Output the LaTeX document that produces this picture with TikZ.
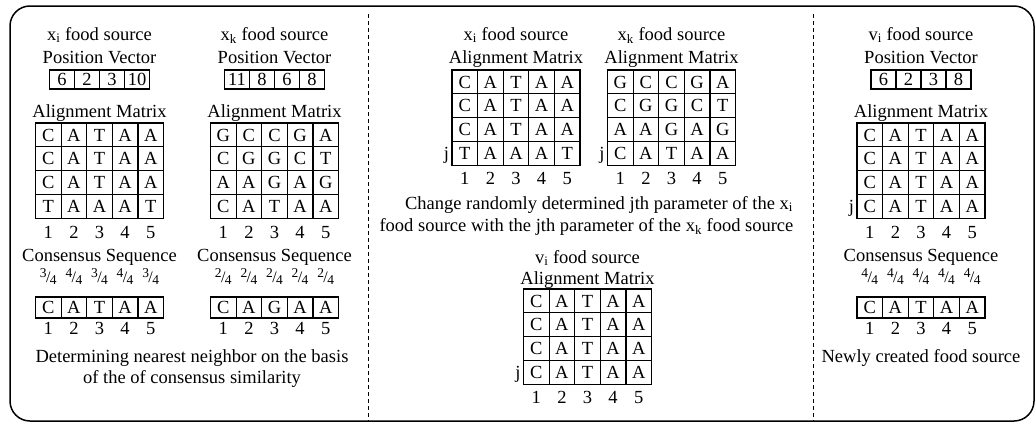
\documentclass[tikz,border=0pt]{standalone}
\usepackage{fontspec}
\setmainfont{Liberation Serif}
\newcommand{\fs}{\fontsize{18.5}{22}\selectfont}
\newcommand{\myfrac}[2]{\raisebox{4.5pt}{\fontsize{13.5}{13.5}\selectfont #1}\kern-0.6pt{\fontsize{16}{16}\selectfont /}\kern-0.6pt\raisebox{-2pt}{\fontsize{13.5}{13.5}\selectfont #2}}
% name, x-left, y-top, cell width, cell height, rows
\newcommand{\mygrid}[6]{%
  \foreach \row [count=\r] in {#6} {
    \foreach \ch [count=\c] in \row {
      \node[cellst, minimum width=#4pt, minimum height=#5pt] (#1-\r-\c)
        at ({#2+(\c-0.5)*#4}, {#3+(\r-0.5)*#5}) {\ch};
    }
  }%
}
% name, x-left, baseline y, cell width
\newcommand{\mynums}[4]{%
  \foreach \c in {1,...,5} {
    \node[lbl] (#1-n\c) at ({#2+(\c-0.5)*#4}, #3) {\c};
  }%
}
\begin{document}
\begin{tikzpicture}[x=1pt,y=-1pt,
  every node/.style={inner sep=0pt, outer sep=0pt, font=\fs},
  lbl/.style={anchor=base},
  cellst/.style={draw, line width=1.2pt, text height=12.2pt, text depth=0pt, anchor=center},
  jlbl/.style={anchor=base east},
  sep/.style={line width=1pt, dash pattern=on 4pt off 3pt},
  frame/.style={line width=1.5pt, rounded corners=20pt}
]
\useasboundingbox (0,0) rectangle (1036,423);
\draw[frame] (10,6) rectangle (1034,421);
\draw[sep] (368,14) -- (368,421);
\draw[sep] (813,14) -- (813,421);

% ---------------- Panel 1 ----------------
% left column (x_i), center 99.5
\node[lbl] (p1a-title) at (99.5,40) {x\textsubscript{i} food source};
\node[lbl] (p1a-pvt) at (99.5,63) {Position Vector};
\mygrid{p1a-pv}{49.5}{70}{25}{19}{{6,2,3,10}}
\node[lbl] (p1a-amt) at (99.5,117) {Alignment Matrix};
\mygrid{p1a-m}{35.5}{123}{25.6}{23.8}{{C,A,T,A,A},{C,A,T,A,A},{C,A,T,A,A},{T,A,A,A,T}}
\mynums{p1a-m}{35.5}{238}{25.6}
\node[lbl] (p1a-cst) at (99.5,261) {Consensus Sequence};
\foreach \a/\c in {3/1,4/2,3/3,4/4,3/5} {
  \node[lbl] (p1a-f\c) at ({35.5+(\c-0.5)*25.6},282) {\myfrac{\a}{4}};
}
\mygrid{p1a-cs}{35.5}{297}{25.6}{21}{{C,A,T,A,A}}
\mynums{p1a-cs}{35.5}{334}{25.6}

% right column (x_k), center 274.5
\node[lbl] (p1b-title) at (274.5,40) {x\textsubscript{k} food source};
\node[lbl] (p1b-pvt) at (274.5,63) {Position Vector};
\mygrid{p1b-pv}{224.5}{70}{25}{19}{{11,8,6,8}}
\node[lbl] (p1b-amt) at (274.5,117) {Alignment Matrix};
\mygrid{p1b-m}{210.5}{123}{25.6}{23.8}{{G,C,C,G,A},{C,G,G,C,T},{A,A,G,A,G},{C,A,T,A,A}}
\mynums{p1b-m}{210.5}{238}{25.6}
\node[lbl] (p1b-cst) at (274.5,261) {Consensus Sequence};
\foreach \c in {1,...,5} {
  \node[lbl] (p1b-f\c) at ({210.5+(\c-0.5)*25.6},282) {\myfrac{2}{4}};
}
\mygrid{p1b-cs}{210.5}{297}{25.6}{21}{{C,A,G,A,A}}
\mynums{p1b-cs}{210.5}{334}{25.6}

\node[lbl] (p1-txt1) at (192,362) {Determining nearest neighbor on the basis};
\node[lbl] (p1-txt2) at (192,383) {of the of consensus similarity};

% ---------------- Panel 2 ----------------
\node[lbl] (p2a-title) at (516,40) {x\textsubscript{i} food source};
\node[lbl] (p2a-amt) at (516,63) {Alignment Matrix};
\mygrid{p2a-m}{452}{70}{25.6}{23.8}{{C,A,T,A,A},{C,A,T,A,A},{C,A,T,A,A},{T,A,A,A,T}}
\node[jlbl] (p2a-j) at (449,{70+3.5*23.8+6.1}) {j};
\mynums{p2a-m}{452}{184}{25.6}

\node[lbl] (p2b-title) at (671.5,40) {x\textsubscript{k} food source};
\node[lbl] (p2b-amt) at (671.5,63) {Alignment Matrix};
\mygrid{p2b-m}{607.5}{70}{25.6}{23.8}{{G,C,C,G,A},{C,G,G,C,T},{A,A,G,A,G},{C,A,T,A,A}}
\node[jlbl] (p2b-j) at (604.5,{70+3.5*23.8+6.1}) {j};
\mynums{p2b-m}{607.5}{184}{25.6}

\node[lbl] (p2-txt1) at (599,209) {Change randomly determined jth parameter of the x\textsubscript{i}};
\node[lbl] (p2-txt2) at (586.5,231) {food source with the jth parameter of the x\textsubscript{k} food source};

\node[lbl] (p2v-title) at (587.5,263) {v\textsubscript{i} food source};
\node[lbl] (p2v-amt) at (587.5,284) {Alignment Matrix};
\mygrid{p2v-m}{523.5}{289}{25.6}{23.8}{{C,A,T,A,A},{C,A,T,A,A},{C,A,T,A,A},{C,A,T,A,A}}
\node[jlbl] (p2v-j) at (520.5,{289+3.5*23.8+6.1}) {j};
\mynums{p2v-m}{523.5}{403}{25.6}

% ---------------- Panel 3 ----------------
\node[lbl] (p3-title) at (921,40) {v\textsubscript{i} food source};
\node[lbl] (p3-pvt) at (921,63) {Position Vector};
\mygrid{p3-pv}{871}{70}{25}{19}{{6,2,3,8}}
\node[lbl] (p3-amt) at (921,117) {Alignment Matrix};
\mygrid{p3-m}{857}{123}{25.6}{23.8}{{C,A,T,A,A},{C,A,T,A,A},{C,A,T,A,A},{C,A,T,A,A}}
\node[jlbl] (p3-j) at (854,{123+3.5*23.8+6.1}) {j};
\mynums{p3-m}{857}{238}{25.6}
\node[lbl] (p3-cst) at (921,261) {Consensus Sequence};
\foreach \c in {1,...,5} {
  \node[lbl] (p3-f\c) at ({857+(\c-0.5)*25.6},282) {\myfrac{4}{4}};
}
\mygrid{p3-cs}{857}{297}{25.6}{21}{{C,A,T,A,A}}
\mynums{p3-cs}{857}{334}{25.6}
\node[lbl] (p3-txt) at (921,362) {Newly created food source};
\end{tikzpicture}
\end{document}
